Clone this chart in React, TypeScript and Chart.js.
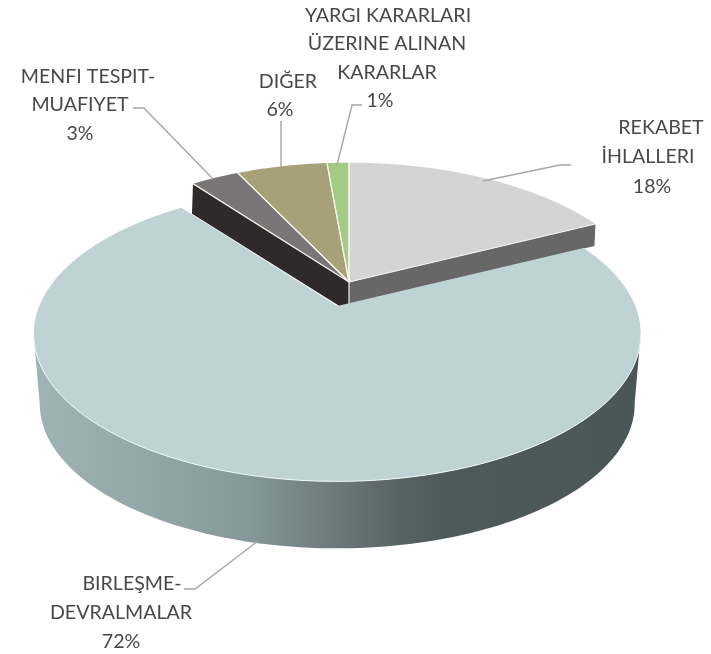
import React, { useEffect, useRef } from "react";
import { Chart, registerables } from "chart.js";

Chart.register(...registerables);

const categories = [
  "REKABET İHLALLERI",
  "BIRLEŞME-DEVRALMALAR",
  "MENFI TESPIT-MUAFIYET",
  "DIĞER",
  "YARGI KARARLARI ÜZERINE ALINAN KARARLAR",
];
const shares = [17.7, 72.0, 3.1, 5.8, 1.4];
const topColors = ["#D4D4D4", "#BFD3D5", "#7A7576", "#A7A078", "#A2CC85"];
const wallColors = ["#676767", "#6B7677", "#2E2A2B", "#6E6A50", "#6F8C5A"];
const explode = [0, 51, 0, 0, 0];

// Display lines of each label with the position of each line, and the leader that joins it to the pie
const labelLines = [
  [["REKABET", 661, 127.5], ["İHLALLERI", 648, 156.5], ["18%", 652, 186.5]],
  [["BIRLEŞME-", 132, 583.5], ["DEVRALMALAR", 121, 612.5], ["72%", 121, 641.5]],
  [["MENFI TESPIT-", 88, 76.5], ["MUAFIYET", 80, 104.5], ["3%", 80, 133.5]],
  [["DIĞER", 288, 81.5], ["6%", 280, 109.5]],
  [["YARGI KARARLARI", 388, 15.5], ["ÜZERINE ALINAN", 387, 43.5], ["KARARLAR", 387, 72.5], ["1%", 380, 100.5]],
];
const leaders = [
  [[571, 165], [560, 165], [483, 181]],
  [[184, 589], [195, 589], [258, 541]],
  [[133, 108], [144, 108], [213, 179]],
  [[281, 121], [281, 167]],
  [[362, 105], [352, 105], [337, 165]],
];

const TILT = 0.4765; // vertical squash of the disc
const PERSP = 0.19; // perspective strength

function project(el: any, offset: number, a: number, r: number) {
  const mid = (el.startAngle + el.endAngle) / 2;
  const ox = el.x + Math.cos(mid) * offset * 1.0;
  const oy = el.y + Math.sin(mid) * offset * 0.485;
  const u = Math.cos(a);
  const v = Math.sin(a);
  const w = 1 - PERSP * v;
  return { x: ox + (r * u) / w, y: oy + (r * TILT * v) / w };
}

function sector(el: any, offset: number) {
  const pts: { x: number; y: number }[] = [];
  const steps = Math.max(8, Math.ceil((el.endAngle - el.startAngle) * 48));
  for (let i = 0; i <= steps; i++) {
    const a = el.startAngle + ((el.endAngle - el.startAngle) * i) / steps;
    pts.push(project(el, offset, a, el.outerRadius));
  }
  return { rim: pts, apex: project(el, offset, 0, 0) };
}

function poly(ctx: CanvasRenderingContext2D, pts: { x: number; y: number }[]) {
  ctx.beginPath();
  pts.forEach((p, i) => (i ? ctx.lineTo(p.x, p.y) : ctx.moveTo(p.x, p.y)));
  ctx.closePath();
}

const pie3d = {
  id: "pie3d",
  beforeDatasetDraw(chart: any) {
    const ctx: CanvasRenderingContext2D = chart.ctx;
    const arcs = chart.getDatasetMeta(0).data;
    const offsetOf = (i: number) => explode[i];
    ctx.save();
    ctx.lineJoin = "round";

    // cut walls of the back slices, later overlapped by the exploded slice
    const cutWall = (i: number, edgeEnd: boolean, h: number) => {
      const el = arcs[i];
      const { rim, apex } = sector(el, offsetOf(i));
      const p = edgeEnd ? rim[rim.length - 1] : rim[0];
      poly(ctx, [apex, p, { x: p.x - 1, y: p.y + h }, { x: apex.x, y: apex.y + h }]);
      ctx.fillStyle = wallColors[i];
      ctx.fill();
    };
    cutWall(2, false, 30);
    cutWall(0, true, 22);
    // white divider between the two cut walls
    const ap = sector(arcs[0], 0).apex;
    ctx.strokeStyle = "#F4F4EE";
    ctx.lineWidth = 1.2;
    ctx.beginPath();
    ctx.moveTo(ap.x, ap.y);
    ctx.lineTo(ap.x, ap.y + 22);
    ctx.stroke();

    // exploded slice: rim wall then top
    const big = arcs[1];
    const { rim, apex } = sector(big, offsetOf(1));
    const lowerOf = (p: { x: number; y: number }) => ({
      x: apex.x + (p.x - apex.x) * 0.98,
      y: apex.y + (p.y - apex.y) * 0.98 + 70.5,
    });
    let iRight = 0;
    let iLeft = 0;
    rim.forEach((p, i) => {
      if (p.x > rim[iRight].x) iRight = i;
      if (p.x < rim[iLeft].x) iLeft = i;
    });
    const visible = rim.slice(iRight, iLeft + 1);
    const g = ctx.createLinearGradient(32, 0, 642, 0);
    g.addColorStop(0, "#A0B3B5");
    g.addColorStop(0.2, "#92A6A8");
    g.addColorStop(0.36, "#849799");
    g.addColorStop(0.5, "#6D7879");
    g.addColorStop(0.6, "#586364");
    g.addColorStop(0.68, "#4E595A");
    g.addColorStop(1, "#4B5657");
    poly(ctx, [...visible, ...visible.map(lowerOf).reverse()]);
    ctx.fillStyle = g;
    ctx.fill();
    poly(ctx, [apex, ...rim]);
    ctx.fillStyle = topColors[1];
    ctx.fill();
    ctx.beginPath();
    visible.forEach((p, i) => (i ? ctx.lineTo(p.x, p.y) : ctx.moveTo(p.x, p.y)));
    ctx.strokeStyle = "#F2F6F6";
    ctx.lineWidth = 1;
    ctx.stroke();

    // tops of the back slices
    [0, 2, 3, 4].forEach((i) => {
      const s = sector(arcs[i], offsetOf(i));
      poly(ctx, [s.apex, ...s.rim]);
      ctx.fillStyle = topColors[i];
      ctx.fill();
    });
    [0, 2, 3, 4].forEach((i) => {
      const s = sector(arcs[i], offsetOf(i));
      ctx.beginPath();
      ctx.moveTo(s.rim[0].x, s.rim[0].y);
      ctx.lineTo(s.apex.x, s.apex.y);
      ctx.lineTo(s.rim[s.rim.length - 1].x, s.rim[s.rim.length - 1].y);
      ctx.strokeStyle = "#F4F4EA";
      ctx.lineWidth = 1.2;
      ctx.stroke();
    });
    ctx.restore();
    return false;
  },
  afterDatasetsDraw(chart: any) {
    const ctx: CanvasRenderingContext2D = chart.ctx;
    ctx.save();
    ctx.strokeStyle = "#A6A6A6";
    ctx.lineWidth = 1.4;
    leaders.forEach((pts) => {
      ctx.beginPath();
      pts.forEach(([x, y], i) => (i ? ctx.lineTo(x, y) : ctx.moveTo(x, y)));
      ctx.stroke();
    });
    ctx.fillStyle = "#484848";
    ctx.font = '19.6px Lato, "Open Sans", sans-serif';
    ctx.textAlign = "center";
    ctx.textBaseline = "middle";
    labelLines.forEach((lines) =>
      lines.forEach(([text, x, y]) => ctx.fillText(text as string, x as number, y as number))
    );
    ctx.restore();
  },
};

export default function App() {
  const ref = useRef<HTMLCanvasElement>(null);
  useEffect(() => {
    const chart = new Chart(ref.current!, {
      type: "pie",
      data: {
        labels: categories,
        datasets: [
          {
            data: shares,
            backgroundColor: topColors,
            offset: explode,
            borderWidth: 0,
          },
        ],
      },
      options: {
        animation: false,
        responsive: false,
        radius: 298,
        layout: { padding: { right: 13, bottom: 90 } },
        plugins: { legend: { display: false }, tooltip: { enabled: false } },
      },
      plugins: [pie3d],
    } as any);
    return () => chart.destroy();
  }, []);
  return (
    <div style={{ position: "absolute", left: 0, top: 0, width: 711, height: 654 }}>
      <canvas ref={ref} width={711} height={654} style={{ display: "block" }} />
    </div>
  );
}
